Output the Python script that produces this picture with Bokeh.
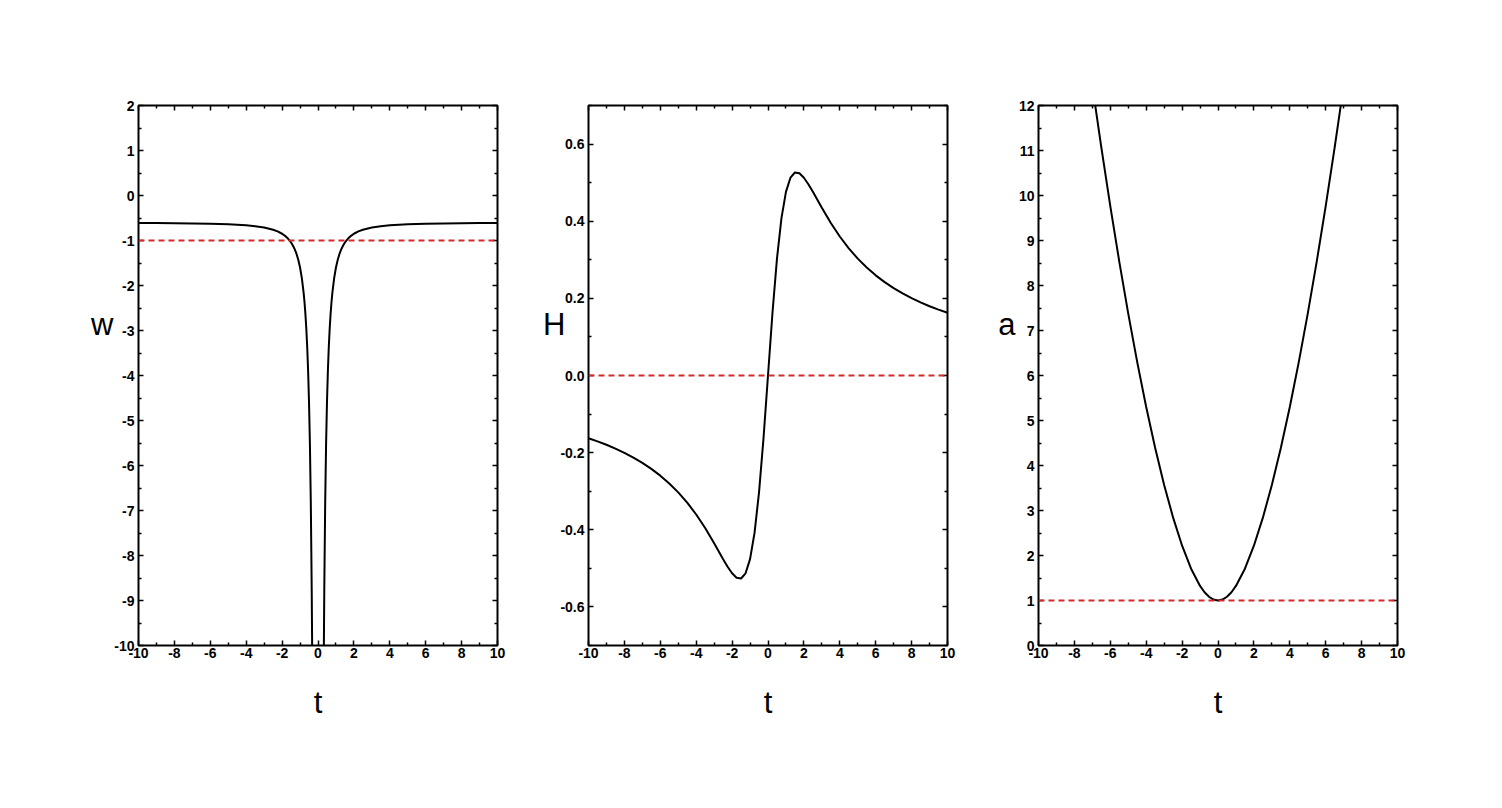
from bokeh.embed import file_html
from bokeh.layouts import row
from bokeh.models import FixedTicker, LinearAxis, NumeralTickFormatter, Range1d, Span
from bokeh.plotting import figure
from bokeh.resources import INLINE

# shared time axis
t_ticks = [-10, -8, -6, -4, -2, 0, 2, 4, 6, 8, 10]
t_minor = [-9, -7, -5, -3, -1, 1, 3, 5, 7, 9]

# w(t), two branches around the pole at t = 0
t_w_neg = [-10, -9, -8, -7, -6, -5, -4, -3.5, -3, -2.5, -2.25, -2, -1.8, -1.7, -1.6, -1.5,
           -1.4, -1.3, -1.2, -1.1, -1, -0.9, -0.8, -0.75, -0.7, -0.65, -0.6, -0.55, -0.5,
           -0.45, -0.4, -0.35, -0.32, -0.3]
w_neg = [-0.61, -0.612, -0.616, -0.62, -0.628, -0.64, -0.6625, -0.682, -0.711, -0.76, -0.798,
         -0.85, -0.909, -0.946, -0.991, -1.044, -1.110, -1.192, -1.294, -1.426, -1.6, -1.835,
         -2.163, -2.378, -2.641, -2.967, -3.378, -3.906, -4.6, -5.538, -6.85, -8.763, -10.366,
         -11.711]
t_w_pos = [0.3, 0.32, 0.35, 0.4, 0.45, 0.5, 0.55, 0.6, 0.65, 0.7, 0.75, 0.8, 0.9, 1, 1.1, 1.2,
           1.3, 1.4, 1.5, 1.6, 1.7, 1.8, 2, 2.25, 2.5, 3, 3.5, 4, 5, 6, 7, 8, 9, 10]
w_pos = [-11.711, -10.366, -8.763, -6.85, -5.538, -4.6, -3.906, -3.378, -2.967, -2.641, -2.378,
         -2.163, -1.835, -1.6, -1.426, -1.294, -1.192, -1.110, -1.044, -0.991, -0.946, -0.909,
         -0.85, -0.798, -0.76, -0.711, -0.682, -0.6625, -0.64, -0.628, -0.62, -0.616, -0.612,
         -0.61]
w_ref = -1
w_ticks = [-10, -9, -8, -7, -6, -5, -4, -3, -2, -1, 0, 1, 2]
w_minor = [-9.5, -8.5, -7.5, -6.5, -5.5, -4.5, -3.5, -2.5, -1.5, -0.5, 0.5, 1.5]

# H(t)
t_H = [-10, -9.5, -9, -8.5, -8, -7.5, -7, -6.5, -6, -5.5, -5, -4.5, -4, -3.5, -3, -2.5, -2.25,
       -2, -1.75, -1.5, -1.25, -1, -0.75, -0.5, -0.25, 0, 0.25, 0.5, 0.75, 1, 1.25, 1.5, 1.75,
       2, 2.25, 2.5, 3, 3.5, 4, 4.5, 5, 5.5, 6, 6.5, 7, 7.5, 8, 8.5, 9, 9.5, 10]
H = [-0.1626, -0.1707, -0.1796, -0.1895, -0.2005, -0.2128, -0.2265, -0.2421, -0.2597, -0.2799,
     -0.3030, -0.3297, -0.3604, -0.3955, -0.4348, -0.4762, -0.4959, -0.5128, -0.5243, -0.5263,
     -0.5128, -0.4762, -0.4082, -0.3030, -0.1626, 0.0, 0.1626, 0.3030, 0.4082, 0.4762, 0.5128,
     0.5263, 0.5243, 0.5128, 0.4959, 0.4762, 0.4348, 0.3955, 0.3604, 0.3297, 0.3030, 0.2799,
     0.2597, 0.2421, 0.2265, 0.2128, 0.2005, 0.1895, 0.1796, 0.1707, 0.1626]
H_ref = 0
H_ticks = [-0.6, -0.4, -0.2, 0.0, 0.2, 0.4, 0.6]
H_minor = [-0.7, -0.5, -0.3, -0.1, 0.1, 0.3, 0.5, 0.7]

# a(t)
t_a = [-7, -6.5, -6, -5.5, -5, -4.5, -4, -3.5, -3, -2.5, -2, -1.5, -1, -0.75, -0.5, -0.25, 0,
       0.25, 0.5, 0.75, 1, 1.5, 2, 2.5, 3, 3.5, 4, 4.5, 5, 5.5, 6, 6.5, 7]
a = [12.44, 11.07, 9.764, 8.532, 7.376, 6.298, 5.301, 4.389, 3.567, 2.841, 2.217, 1.707, 1.324,
     1.184, 1.083, 1.021, 1.0, 1.021, 1.083, 1.184, 1.324, 1.707, 2.217, 2.841, 3.567, 4.389,
     5.301, 6.298, 7.376, 8.532, 9.764, 11.07, 12.44]
a_ref = 1
a_ticks = [0, 1, 2, 3, 4, 5, 6, 7, 8, 9, 10, 11, 12]
a_minor = [0.5, 1.5, 2.5, 3.5, 4.5, 5.5, 6.5, 7.5, 8.5, 9.5, 10.5, 11.5]

FONT = "Liberation Sans"


def style_axis(ax, ticks, minor, show_labels, standoff, fmt="0"):
    ax.ticker = FixedTicker(ticks=ticks, minor_ticks=minor)
    ax.formatter = NumeralTickFormatter(format=fmt)
    ax.axis_line_color = None
    ax.major_tick_in = 5
    ax.major_tick_out = 0
    ax.minor_tick_in = 3
    ax.minor_tick_out = 0
    ax.major_tick_line_width = 1.5
    ax.minor_tick_line_width = 1.5
    ax.major_tick_line_color = "black"
    ax.minor_tick_line_color = "black"
    ax.major_label_text_font = FONT
    ax.major_label_text_font_style = "bold"
    if show_labels:
        ax.major_label_text_color = "black"
        ax.major_label_text_font_size = "14px"
        ax.major_label_standoff = standoff
    else:
        # tick marks only (mirrored frame ticks)
        ax.major_label_text_color = None
        ax.major_label_text_font_size = "0px"
        ax.major_label_standoff = 0


def panel(tx_list, y_list, y_range, yticks, yminor, yfmt, ylabel, label_y, label_gap, ref,
          left, right):
    p = figure(width=left + 359 + right, height=105 + 540 + 90,
               x_range=Range1d(-10, 10), y_range=Range1d(*y_range),
               min_border_left=left, min_border_right=right,
               min_border_top=105, min_border_bottom=90,
               output_backend="svg", toolbar_location=None)
    p.grid.visible = False
    p.outline_line_color = "black"
    p.outline_line_width = 2
    p.background_fill_color = "white"
    p.border_fill_color = "white"

    style_axis(p.xaxis[0], t_ticks, t_minor, True, 2)
    style_axis(p.yaxis[0], yticks, yminor, True, 4, yfmt)

    p.xaxis[0].axis_label = "t"
    p.xaxis[0].axis_label_text_font = FONT
    p.xaxis[0].axis_label_text_font_style = "normal"
    p.xaxis[0].axis_label_text_font_size = "31px"
    p.xaxis[0].axis_label_text_color = "black"
    p.xaxis[0].axis_label_standoff = 24

    top = LinearAxis()
    style_axis(top, t_ticks, t_minor, False, 0)
    p.add_layout(top, "above")
    rgt = LinearAxis()
    style_axis(rgt, yticks, yminor, False, 0)
    p.add_layout(rgt, "right")

    # y-axis name, set beside the frame at the height used in the original
    name = LinearAxis(ticker=FixedTicker(ticks=[label_y], minor_ticks=[]),
                      major_label_overrides={label_y: ylabel})
    name.axis_line_color = None
    name.major_tick_line_color = None
    name.major_tick_in = 0
    name.major_tick_out = 0
    name.minor_tick_line_color = None
    name.major_label_standoff = label_gap
    name.major_label_text_font = FONT
    name.major_label_text_font_style = "normal"
    name.major_label_text_font_size = "31px"
    name.major_label_text_color = "black"
    p.add_layout(name, "left")

    p.add_layout(Span(location=ref, dimension="width", line_color="#d42a2a",
                      line_width=2, line_dash="6 4"))
    for tx, yy in zip(tx_list, y_list):
        p.line(tx, yy, line_color="black", line_width=2)
    return p


p1 = panel([t_w_neg, t_w_pos], [w_neg, w_pos], (-10, 2), w_ticks, w_minor, "0",
           "w", -2.87, -2, w_ref, 138, 16)
p2 = panel([t_H], [H], (-0.7, 0.7), H_ticks, H_minor, "0.0",
           "H", 0.132, -8, H_ref, 75, 16)
p3 = panel([t_a], [a], (0, 12), a_ticks, a_minor, "0",
           "a", 7.13, 0, a_ref, 75, 20)

layout = row(p1, p2, p3)
open("out.html", "w").write(file_html(layout, INLINE))
